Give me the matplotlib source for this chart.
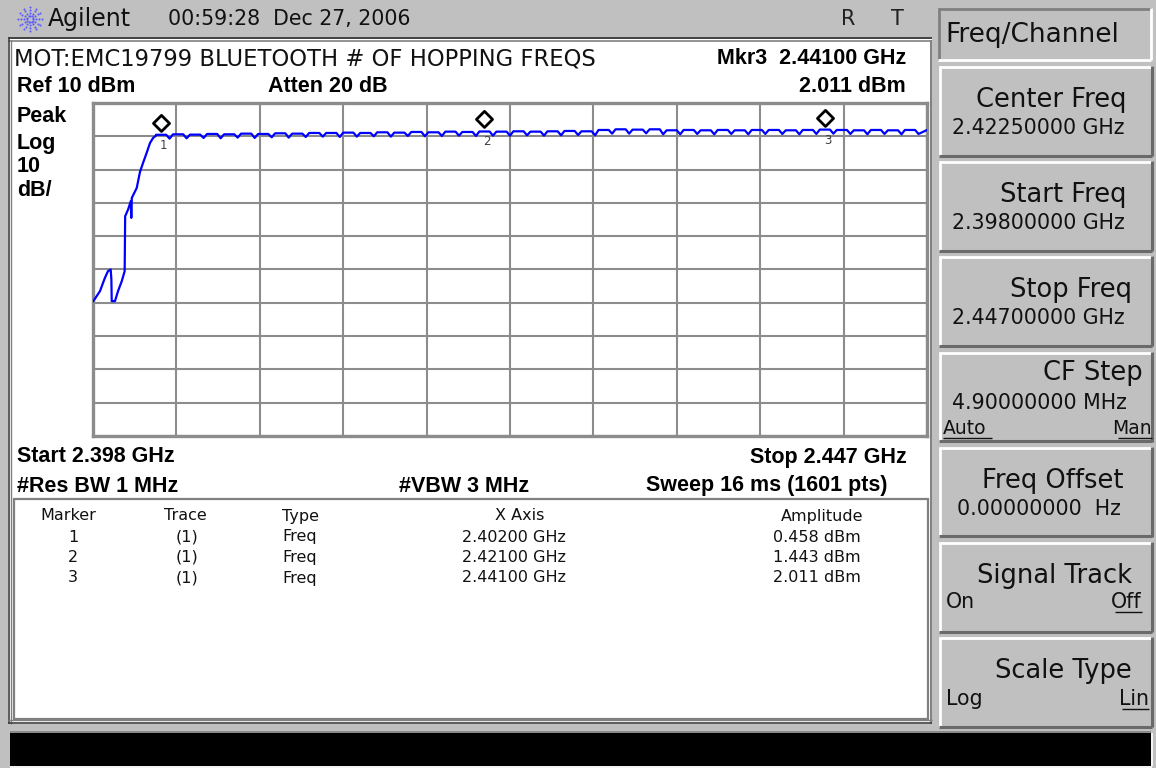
import numpy as np
import matplotlib
matplotlib.use("Agg")
import matplotlib.pyplot as plt
from matplotlib.patches import Rectangle
from matplotlib.path import Path

start_ghz = 2.398
stop_ghz = 2.447
ref_dbm = 10
db_per_div = 10

# rising band edge, MHz / dBm
edge_mhz = [2398.02, 2398.41, 2398.70, 2398.88, 2399.04, 2399.08, 2399.10,
            2399.29, 2399.47, 2399.69, 2399.86, 2399.89, 2400.06, 2400.22,
            2400.25, 2400.28, 2400.57, 2400.76, 2400.94, 2401.15, 2401.35,
            2401.53, 2401.70]
edge_dbm = [-49.5, -46.5, -42.5, -40.5, -40.0, -43.0, -49.5,
            -49.5, -46.5, -43.5, -40.5, -24.0, -22.0, -19.5,
            -24.5, -18.5, -15.5, -10.7, -8.0, -5.0, -2.0,
            -0.5, 0.2]

# hopping channels (MHz) with plateau level and the dip after each channel
chan_mhz = list(range(2402, 2447))
chan_peak = [0.458, 0.6, 0.5, 0.7, 0.6, 0.8, 0.7, 0.9, 0.8, 1.0,
             1.0, 1.1, 1.0, 1.2, 1.1, 1.3, 1.2, 1.4, 1.3, 1.443,
             1.4, 1.5, 1.4, 1.5, 1.6, 1.5, 1.9, 2.1, 2.0, 2.1,
             1.8, 1.9, 1.8, 1.9, 1.8, 1.9, 1.9, 1.8, 1.9, 2.011,
             1.9, 1.8, 1.9, 1.8, 1.9]
chan_dip = [-0.7, -0.6, -0.5, -0.6, -0.4, -0.5, -0.3, -0.4, -0.2, -0.1,
            -0.2, -0.1, 0.0, -0.1, 0.1, 0.0, 0.1, 0.2, 0.1, 0.2,
            0.2, 0.3, 0.2, 0.3, 0.4, 0.3, 0.8, 0.8, 0.9, 0.6,
            0.6, 0.7, 0.6, 0.7, 0.6, 0.7, 0.7, 0.6, 0.7, 0.8,
            0.7, 0.6, 0.7, 0.6, 0.7]
end_dbm = 1.9

marker_ids = [1, 2, 3]
marker_ghz = [2.40200, 2.42100, 2.44100]
marker_dbm = [0.458, 1.443, 2.011]

header_left = "MOT:EMC19799 BLUETOOTH # OF HOPPING FREQS"
table_cols = ["Marker", "Trace", "Type", "X Axis", "Amplitude"]

softkeys = [("Center Freq", "2.42250000 GHz"),
            ("Start Freq", "2.39800000 GHz"),
            ("Stop Freq", "2.44700000 GHz"),
            ("CF Step", "4.90000000 MHz"),
            ("Freq Offset", "0.00000000  Hz"),
            ("Signal Track", None),
            ("Scale Type", None)]

# ---------------- figure ----------------
W, H = 1156, 768
GRAY = "#c0c0c0"
DARK = "#808080"
fig = plt.figure(figsize=(W / 100, H / 100), dpi=100, facecolor=GRAY)
bg = fig.add_axes([0, 0, 1, 1])
bg.set_xlim(0, W)
bg.set_ylim(H, 0)
bg.axis("off")

NORM = "DejaVu Sans"
BOLD = "Liberation Sans"


def rect(x0, y0, x1, y1, **kw):
    bg.add_patch(Rectangle((x0, y0), x1 - x0, y1 - y0, **kw))


def hline(x0, x1, y, c, lw=1.0):
    bg.plot([x0, x1], [y, y], color=c, lw=lw, solid_capstyle="butt")


def vline(x, y0, y1, c, lw=1.0):
    bg.plot([x, x], [y0, y1], color=c, lw=lw, solid_capstyle="butt")


def txt(x, y, s, size, ha="left", bold=False, **kw):
    bg.text(x, y, s, fontsize=size, ha=ha, va="center",
            family=BOLD if bold else NORM,
            fontweight="bold" if bold else "normal", **kw)


# top status bar
txt(48, 19, "Agilent", 17, color="#111111")
txt(168, 19, "00:59:28  Dec 27, 2006", 14.8, color="#111111")
txt(848, 19, "R", 15, ha="center", color="#222222")
txt(897, 19, "T", 15, ha="center", color="#222222")
cx, cy = 30, 19
for ang in np.arange(0, 360, 30):
    a = np.deg2rad(ang)
    r = np.array([3, 6, 9, 12])
    bg.scatter(cx + r * np.cos(a), cy + r * np.sin(a), s=2.2,
               color="#5a5aff", zorder=3, linewidths=0)

# main white panel
rect(8, 37, 932, 724, facecolor="white", edgecolor="none")
hline(8, 932, 38, "#202020", 1.2)
hline(8, 932, 40.5, DARK, 1.2)
vline(8.5, 37, 724, "#404040", 1.2)
vline(10.5, 40, 724, DARK, 1.0)
vline(930.5, 40, 724, DARK, 1.4)
hline(8, 932, 722.5, "#404040", 1.2)
hline(8, 932, 719.5, DARK, 1.0)

# table box
rect(14, 499, 928, 719, facecolor="white", edgecolor=DARK, lw=1.6)

# header text
txt(14, 59, header_left, 16.3, color="#111111")
txt(906, 59, "Mkr3  2.44100 GHz", 15.5, ha="right", bold=True)
txt(17, 87, "Ref 10 dBm", 15.5, bold=True)
txt(268, 87, "Atten 20 dB", 15.5, bold=True)
txt(906, 87, "2.011 dBm", 15.5, ha="right", bold=True)
for s, yy in [("Peak", 117), ("Log", 143), ("10", 167), ("dB/", 191)]:
    txt(17, yy, s, 15.5, bold=True)
txt(17, 457, "Start 2.398 GHz", 15.5, bold=True)
txt(907, 457, "Stop 2.447 GHz", 15.5, ha="right", bold=True)
txt(17, 486, "#Res BW 1 MHz", 15.5, bold=True)
txt(399, 486, "#VBW 3 MHz", 15.5, bold=True)
txt(888, 486, "Sweep 16 ms (1601 pts)", 15.5, ha="right", bold=True)

# marker table
TS = 11.5
col_x = [68, 185, 282, 520, 822]
col_ha = ["center", "center", "left", "center", "center"]
for s, xx, ha in zip(table_cols, col_x, col_ha):
    txt(xx, 516, s, TS, ha=ha, color="#111111")
for i, (mid, mg, md) in enumerate(zip(marker_ids, marker_ghz, marker_dbm)):
    yy = 537 + i * 20.5
    txt(col_x[0] + 5, yy, str(mid), TS, ha="center", color="#111111")
    txt(col_x[1] + 2, yy, "(1)", TS, ha="center", color="#111111")
    txt(col_x[2], yy, "Freq", TS, ha="left", color="#111111")
    txt(col_x[3] - 6, yy, f"{mg:.5f} GHz", TS, ha="center", color="#111111")
    txt(col_x[4] - 5, yy, f"{md:.3f} dBm", TS, ha="center", color="#111111")

# message bar
rect(10, 733, 1151, 766, facecolor="black", edgecolor="none")
hline(10, 1151, 732, DARK, 1.2)
vline(1151.5, 733, 766, "white", 1.2)
hline(10, 1152, 766.5, "white", 1.2)

# soft keys
rect(938, 8, 1151, 60, facecolor=GRAY, edgecolor="none")
hline(938, 1151, 8.5, DARK, 2)
vline(938.5, 8, 60, DARK, 2)
hline(938, 1151, 59.5, "white", 2)
vline(1150.5, 8, 60, "white", 2)
txt(945, 35, "Freq/Channel", 19, color="#111111")

key_top = 66
key_h = 90
key_step = 95.2
title_right = [1127, 1127, 1132, 1143, 1123, 1132, 1132]
title_dy = [34, 34, 34, 21, 34, 34, 34]
value_dy = [62, 62, 62, 51, 62, 62, 62]
for k, (title, val) in enumerate(softkeys):
    t = key_top + k * key_step
    b = t + key_h
    hline(939, 1152, t + 1, "white", 2)
    vline(940, t, b, "white", 2)
    hline(939, 1152, b - 0.5, "#6a6a6a", 2.2)
    vline(1152, t, b, "#6a6a6a", 2.2)
    txt(title_right[k], t + title_dy[k], title, 18.5, ha="right",
        color="#111111")
    if val is not None:
        txt(952 if k < 4 else 957, t + value_dy[k], val, 14.8,
            color="#111111")
key3 = key_top + 3 * key_step
txt(943, key3 + 77, "Auto", 13.5, color="#111111")
hline(943, 992, key3 + 86, "#111111", 1.0)
txt(1152, key3 + 77, "Man", 13.5, ha="right", color="#111111")
hline(1118, 1152, key3 + 86, "#111111", 1.0)
key5 = key_top + 5 * key_step
txt(946, key5 + 60, "On", 14.8, color="#111111")
txt(1142, key5 + 60, "Off", 14.8, ha="right", color="#111111")
hline(1115, 1142, key5 + 70, "#111111", 1.0)
key6 = key_top + 6 * key_step
txt(946, key6 + 62, "Log", 14.8, color="#111111")
txt(1149, key6 + 62, "Lin", 14.8, ha="right", color="#111111")
hline(1122, 1149, key6 + 72, "#111111", 1.0)

# ---------------- trace graticule ----------------
gx0, gx1, gy0, gy1 = 93, 927, 103, 436
ax = fig.add_axes([gx0 / W, 1 - gy1 / H, (gx1 - gx0) / W, (gy1 - gy0) / H])
ax.set_facecolor("white")
ax.set_xlim(start_ghz, stop_ghz)
ax.set_ylim(ref_dbm - 10 * db_per_div, ref_dbm)
ax.set_xticks(np.linspace(start_ghz, stop_ghz, 11))
ax.set_yticks(np.linspace(ref_dbm - 10 * db_per_div, ref_dbm, 11))
ax.grid(True, color="#8c8c8c", lw=1.5)
ax.tick_params(length=0, labelbottom=False, labelleft=False)
for sp in ax.spines.values():
    sp.set_color("#8c8c8c")
    sp.set_linewidth(2.4)

fx = list(edge_mhz)
fy = list(edge_dbm)
for c, p, d in zip(chan_mhz, chan_peak, chan_dip):
    fx += [c - 0.3, c + 0.3, c + 0.5]
    fy += [p, p, d]
fx.append(stop_ghz * 1000)
fy.append(end_dbm)
ax.plot(np.array(fx) / 1000.0, fy, color="#0000ff", lw=1.6, zorder=3,
        clip_on=True)

# markers: diamond sitting on the trace point
diamond = Path([(0, 0.25), (0.5, 0.75), (0, 1.25), (-0.5, 0.75), (0, 0.25)],
               [Path.MOVETO, Path.LINETO, Path.LINETO, Path.LINETO,
                Path.CLOSEPOLY])
ax.plot(marker_ghz, marker_dbm, linestyle="none", marker=diamond,
        markersize=29, markerfacecolor="none", markeredgecolor="black",
        markeredgewidth=2.0, zorder=4, clip_on=False)
for mid, mg, md in zip(marker_ids, marker_ghz, marker_dbm):
    ax.annotate(str(mid), xy=(mg, md), xytext=(2, -7.5),
                textcoords="offset points", ha="center", va="center",
                fontsize=8.5, color="#404040", family=NORM, zorder=5)

fig.savefig("out.png", dpi=100, facecolor=GRAY)
